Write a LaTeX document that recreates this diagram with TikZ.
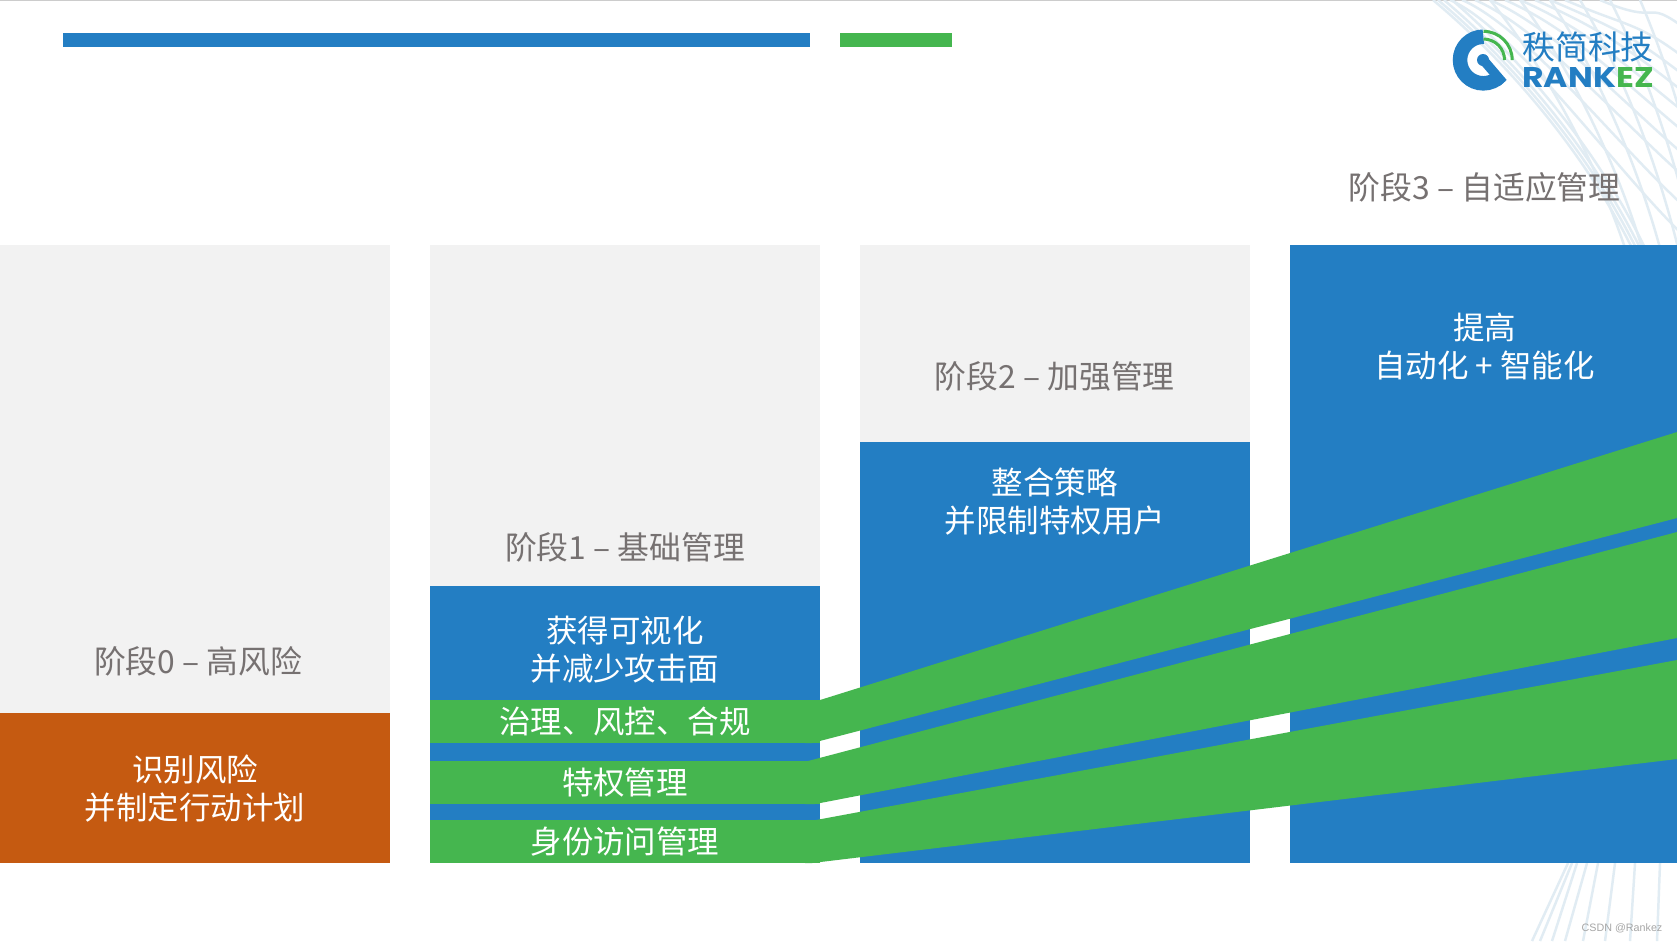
\documentclass[tikz,border=0pt]{standalone}
\usepackage{fontspec}
\usepackage{xcolor}
\setmainfont{Noto Sans CJK SC}
\newfontfamily\logofont{Poppins}[BoldFont=* Bold]
\newfontfamily\markfont{Liberation Sans}
\usetikzlibrary{positioning}
\definecolor{rankBlue}{RGB}{35, 126, 195}
\definecolor{rankGreen}{RGB}{69, 182, 79}
\definecolor{rankOrange}{RGB}{197, 90, 17}
\definecolor{panelGray}{RGB}{242, 242, 242}
\definecolor{labelGray}{RGB}{118, 113, 113}
\definecolor{netColor}{RGB}{225, 236, 243}

\begin{document}
\begin{tikzpicture}[
    x=0.01cm, y=-0.01cm,
    node distance=0.396cm,
    panel/.style={rectangle, inner sep=0pt, outer sep=0pt, minimum width=3.9cm, text=white, align=center, font=\fontsize{8.95}{10.8}\selectfont},
    graypanel/.style={panel, fill=panelGray},
    bluepanel/.style={panel, fill=rankBlue},
    redpanel/.style={panel, fill=rankOrange},
    bandbox/.style={panel, fill=rankGreen, minimum height=0.43cm},
    phase/.style={inner sep=0pt, text=labelGray, font=\fontsize{9.05}{10.8}\selectfont},
    caption/.style={inner sep=0pt, text=white, align=center, font=\fontsize{8.95}{10.8}\selectfont},
    ribbon/.style={fill=rankGreen},
    netline/.style={draw=netColor, line width=0.7pt}
]
    \useasboundingbox (0,0) rectangle (1677,941);
    \fill[white] (0,0) rectangle (1677,941);
    \fill[black!20] (0,0) rectangle (1677,1.2);

    % Background net
    \foreach \s/\e in {1433/1632, 1438/1636, 1444/1640, 1452/1645, 1490/1625, 1520/1642, 1550/1660, 1580/1678, 1610/1695, 1640/1712}
        \draw[netline] (\s,0) .. controls ({\s+0.42*(\e-\s)},70) and ({\e-0.22*(\e-\s)},160) .. (\e,248);
    \foreach \s/\h in {1450/250, 1475/190, 1505/145, 1535/105, 1565/70, 1600/40, 1462/220, 1490/168, 1520/125, 1550/88}
        \draw[netline] (\s,0) .. controls ({\s+70},30) and ({1677-40},{\h-50}) .. (1700,\h);
    \foreach \s/\e in {1568/1532, 1572/1540, 1577/1552, 1587/1565, 1598/1583, 1615/1605, 1635/1630, 1660/1657}
        \draw[netline] (\s,863) -- (\e,941);

    % Title bars
    \fill[rankBlue] (63,33) rectangle (810,47);
    \fill[rankGreen] (840,33) rectangle (952,47);

    % Logo
    \draw[rankBlue, line width=0.145cm] (1483.3,36.7) arc[start angle=90, end angle=318, radius=0.233cm];
    \draw[rankBlue, line width=0.095cm] (1483.3,60) -- (1503,83);
    \fill[rankBlue] (1483,60) circle[radius=0.06cm];
    \draw[rankGreen, line width=0.03cm] (1483.5,31.3) arc[start angle=90, end angle=0, radius=0.287cm];
    \draw[rankGreen, line width=0.03cm] (1483.5,39) arc[start angle=90, end angle=0, radius=0.21cm];
    \node[inner sep=0pt, text=rankBlue, font=\fontsize{9.35}{10}\selectfont] (logoname) at (1588,47) {秩简科技};
    \node[inner sep=0pt, xscale=1.16, font=\logofont\bfseries\fontsize{8.1}{9}\selectfont, below=0.04cm of logoname] (logomark) {\textcolor{rankBlue}{RANK}\textcolor{rankGreen}{EZ}};

    % Stage panels
    \node[graypanel, minimum height=4.68cm, anchor=north west] (gray0) at (0,245) {};
    \node[redpanel, minimum height=1.5cm, below=0pt of gray0] (red0) {识别风险\\并制定行动计划};
    \node[graypanel, minimum height=3.41cm, right=of gray0.north east, anchor=north west] (gray1) {};
    \node[bluepanel, minimum height=2.77cm, below=0pt of gray1] (blue1) {};
    \node[graypanel, minimum height=1.97cm, right=of gray1.north east, anchor=north west] (gray2) {};
    \node[bluepanel, minimum height=4.21cm, below=0pt of gray2] (blue2) {};
    \node[bluepanel, minimum height=6.18cm, right=of gray2.north east, anchor=north west] (blue3) {};

    % Bands in stage 1
    \node[bandbox, below=1.14cm of gray1] (govern) {};
    \node[bandbox, below=0.18cm of govern] (privilege) {};
    \node[bandbox, below=0.16cm of privilege] (identity) {};

    % Ribbons
    \fill[ribbon] (805,700) -- (820,700) -- (1677,432) -- (1677,518) -- (812,743) -- (805,743) -- cycle;
    \fill[ribbon] (805,761) -- (808,761) -- (1677,532) -- (1677,638) -- (815,804) -- (805,804) -- cycle;
    \fill[ribbon] (805,820) -- (816,820) -- (1677,660) -- (1677,759) -- (812,863) -- (805,863) -- cycle;

    % Labels
    \node[caption] at (govern) {治理、风控、合规};
    \node[caption] at (privilege) {特权管理};
    \node[caption] at (identity) {身份访问管理};
    \node[phase, above=0.36cm of gray0.south, xshift=0.03cm] (phase0) {阶段0 – 高风险};
    \node[phase, above=0.23cm of gray1.south] (phase1) {阶段1 – 基础管理};
    \node[phase, above=0.5cm of gray2.south] (phase2) {阶段2 – 加强管理};
    \node[phase, above=0.42cm of blue3.north] (phase3) {阶段3 – 自适应管理};
    \node[caption, below=0.293cm of blue1.north] (goal1) {获得可视化\\并减少攻击面};
    \node[caption, below=0.253cm of blue2.north] (goal2) {整合策略\\并限制特权用户};
    \node[caption, below=0.67cm of blue3.north] (goal3) {提高\\自动化 + 智能化};
    \node[inner sep=0pt, text=black!35, font=\markfont\fontsize{3.05}{4}\selectfont] (mark) at (1622,928) {CSDN @Rankez};
\end{tikzpicture}
\end{document}
